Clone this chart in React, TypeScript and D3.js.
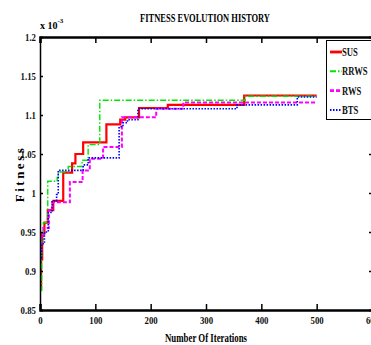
import { useEffect, useRef } from 'react'
import * as d3 from 'd3'

// fitness values are in units of 1e-3
const xTicks = [0, 100, 200, 300, 400, 500, 600]
const yTicks = [0.85, 0.9, 0.95, 1, 1.05, 1.1, 1.15, 1.2]
const yTickLabels = ['0.85', '0.9', '0.95', '1', '1.05', '1.1', '1.15', '1.2']

const seriesNames = ['SUS', 'RRWS', 'RWS', 'BTS']

const susIter = [0, 2, 4, 8, 14, 24, 42, 58, 64, 78, 120, 145, 154, 179, 231, 369, 500]
const susFit = [0.878, 0.915, 0.948, 0.962, 0.978, 0.99, 1.026, 1.038, 1.05, 1.065, 1.088, 1.094, 1.097, 1.109, 1.113, 1.125, 1.125]

const rrwsIter = [0, 3, 6, 14, 31, 33, 51, 76, 87, 108, 371, 500]
const rrwsFit = [0.875, 0.94, 0.962, 1.015, 1.02, 1.027, 1.034, 1.042, 1.062, 1.119, 1.124, 1.124]

const rwsIter = [0, 2, 6, 16, 22, 54, 77, 90, 114, 148, 210, 259, 500]
const rwsFit = [0.925, 0.945, 0.955, 0.978, 0.988, 1.014, 1.029, 1.044, 1.059, 1.097, 1.108, 1.116, 1.116]

const btsIter = [0, 3, 8, 15, 22, 30, 33, 78, 87, 143, 150, 158, 177, 356, 465, 500]
const btsFit = [0.915, 0.935, 0.95, 0.975, 0.99, 0.998, 1.029, 1.036, 1.045, 1.085, 1.09, 1.094, 1.108, 1.113, 1.123, 1.123]

const colors = ['#ff0000', '#00e600', '#ff00ff', '#0000ff']
const dashes = ['none', '6,2,1.5,2', '4,2', '1.5,1.5']
const widths = [2.2, 1.4, 2, 1.6]

const FONT = '"Liberation Serif", "DejaVu Serif", serif'

// squeeze text horizontally, the original uses a narrow serif face
function condense(sel: d3.Selection<any, any, any, any>, k: number) {
  sel.each(function () {
    const t = this as SVGTextElement
    const w = t.getComputedTextLength()
    if (w > 0) {
      t.setAttribute('textLength', String(w * k))
      t.setAttribute('lengthAdjust', 'spacingAndGlyphs')
    }
  })
}

export default function App() {
  const ref = useRef<SVGSVGElement | null>(null)

  useEffect(() => {
    const el = ref.current
    if (!el) return
    const svg = d3.select(el)
    svg.selectAll('*').remove()

    const x = d3.scaleLinear().domain([0, 600]).range([40, 372])
    const y = d3.scaleLinear().domain([0.85, 1.2]).range([310, 37])

    svg.append('rect').attr('width', 371).attr('height', 345).attr('fill', '#fff')

    const series = [
      { it: susIter, f: susFit },
      { it: rrwsIter, f: rrwsFit },
      { it: rwsIter, f: rwsFit },
      { it: btsIter, f: btsFit },
    ]

    const line = d3.line<[number, number]>()
      .x(d => x(d[0]))
      .y(d => y(d[1]))
      .curve(d3.curveStepAfter)

    series.forEach((s, i) => {
      const pts = s.it.map((v, j) => [v, s.f[j]] as [number, number])
      svg.append('path')
        .attr('d', line(pts) ?? '')
        .attr('fill', 'none')
        .attr('stroke', colors[i])
        .attr('stroke-width', widths[i])
        .attr('stroke-dasharray', dashes[i])
    })

    // axes
    const fmt = (d: d3.NumberValue) => yTickLabels[yTicks.indexOf(+d)] ?? ''
    const gl = svg.append('g').attr('transform', 'translate(40,0)')
      .call(d3.axisLeft(y).tickValues(yTicks).tickSize(-3).tickPadding(4).tickFormat(fmt))
    const gb = svg.append('g').attr('transform', 'translate(0,310)')
      .call(d3.axisBottom(x).tickValues(xTicks).tickSize(-6).tickPadding(6).tickFormat(d3.format('d')))
    const gt = svg.append('g').attr('transform', 'translate(0,37)')
      .call(d3.axisTop(x).tickValues(xTicks).tickSize(-6).tickFormat(() => ''))
    const gr = svg.append('g').attr('transform', 'translate(372,0)')
      .call(d3.axisRight(y).tickValues(yTicks).tickSize(-3).tickFormat(() => ''))

    for (const g of [gl, gb, gt, gr]) {
      g.select('.domain').attr('stroke', '#000').attr('stroke-width', 1.5)
      g.selectAll('.tick line').attr('stroke', '#000').attr('stroke-width', 1.5)
      g.selectAll('.tick text')
        .attr('font-family', FONT)
        .attr('font-weight', 'bold')
        .attr('font-size', 11)
        .attr('fill', '#111')
    }
    gb.select('.domain').attr('stroke-width', 2.5)
    gt.select('.domain').attr('stroke-width', 2.5)
    condense(gl.selectAll('.tick text'), 0.8)
    condense(gb.selectAll('.tick text'), 0.8)

    // title and labels
    svg.append('text')
      .attr('x', 205).attr('y', 22)
      .attr('text-anchor', 'middle')
      .attr('font-family', FONT).attr('font-weight', 'bold').attr('font-size', 12)
      .attr('textLength', 130).attr('lengthAdjust', 'spacingAndGlyphs')
      .text('FITNESS EVOLUTION HISTORY')

    const sci = svg.append('text')
      .attr('x', 40).attr('y', 29)
      .attr('font-family', FONT).attr('font-weight', 'bold').attr('font-size', 10)
    sci.append('tspan').text('x 10')
    sci.append('tspan').attr('dy', -6).attr('font-size', 7).text('-3')

    svg.append('text')
      .attr('x', 206).attr('y', 342)
      .attr('text-anchor', 'middle')
      .attr('font-family', FONT).attr('font-weight', 'bold').attr('font-size', 12)
      .attr('textLength', 82).attr('lengthAdjust', 'spacingAndGlyphs')
      .text('Number Of Iterations')

    svg.append('text')
      .attr('transform', 'translate(24,174) rotate(-90)')
      .attr('text-anchor', 'middle')
      .attr('font-family', FONT).attr('font-weight', 'bold').attr('font-size', 13)
      .attr('letter-spacing', 2.5)
      .text('Fitness')

    // legend
    const lg = svg.append('g')
    lg.append('rect')
      .attr('x', 326.5).attr('y', 40.5).attr('width', 60).attr('height', 79)
      .attr('fill', '#fff').attr('stroke', '#000').attr('stroke-width', 1)
    const ly = d3.scalePoint<string>().domain(seriesNames).range([52, 110])
    seriesNames.forEach((name, i) => {
      const yy = ly(name) ?? 0
      lg.append('line')
        .attr('x1', 330).attr('x2', 342).attr('y1', yy).attr('y2', yy)
        .attr('stroke', colors[i]).attr('stroke-width', widths[i] + 0.6)
        .attr('stroke-dasharray', dashes[i])
      lg.append('text')
        .attr('class', 'lgtext')
        .attr('x', 342).attr('y', yy + 4)
        .attr('font-family', FONT).attr('font-weight', 'bold').attr('font-size', 12)
        .attr('fill', '#111')
        .text(name)
    })
    condense(lg.selectAll('.lgtext'), 0.72)
  }, [])

  return (
    <svg
      ref={ref}
      width={371}
      height={345}
      style={{ position: 'absolute', left: 0, top: 0, display: 'block' }}
    />
  )
}
